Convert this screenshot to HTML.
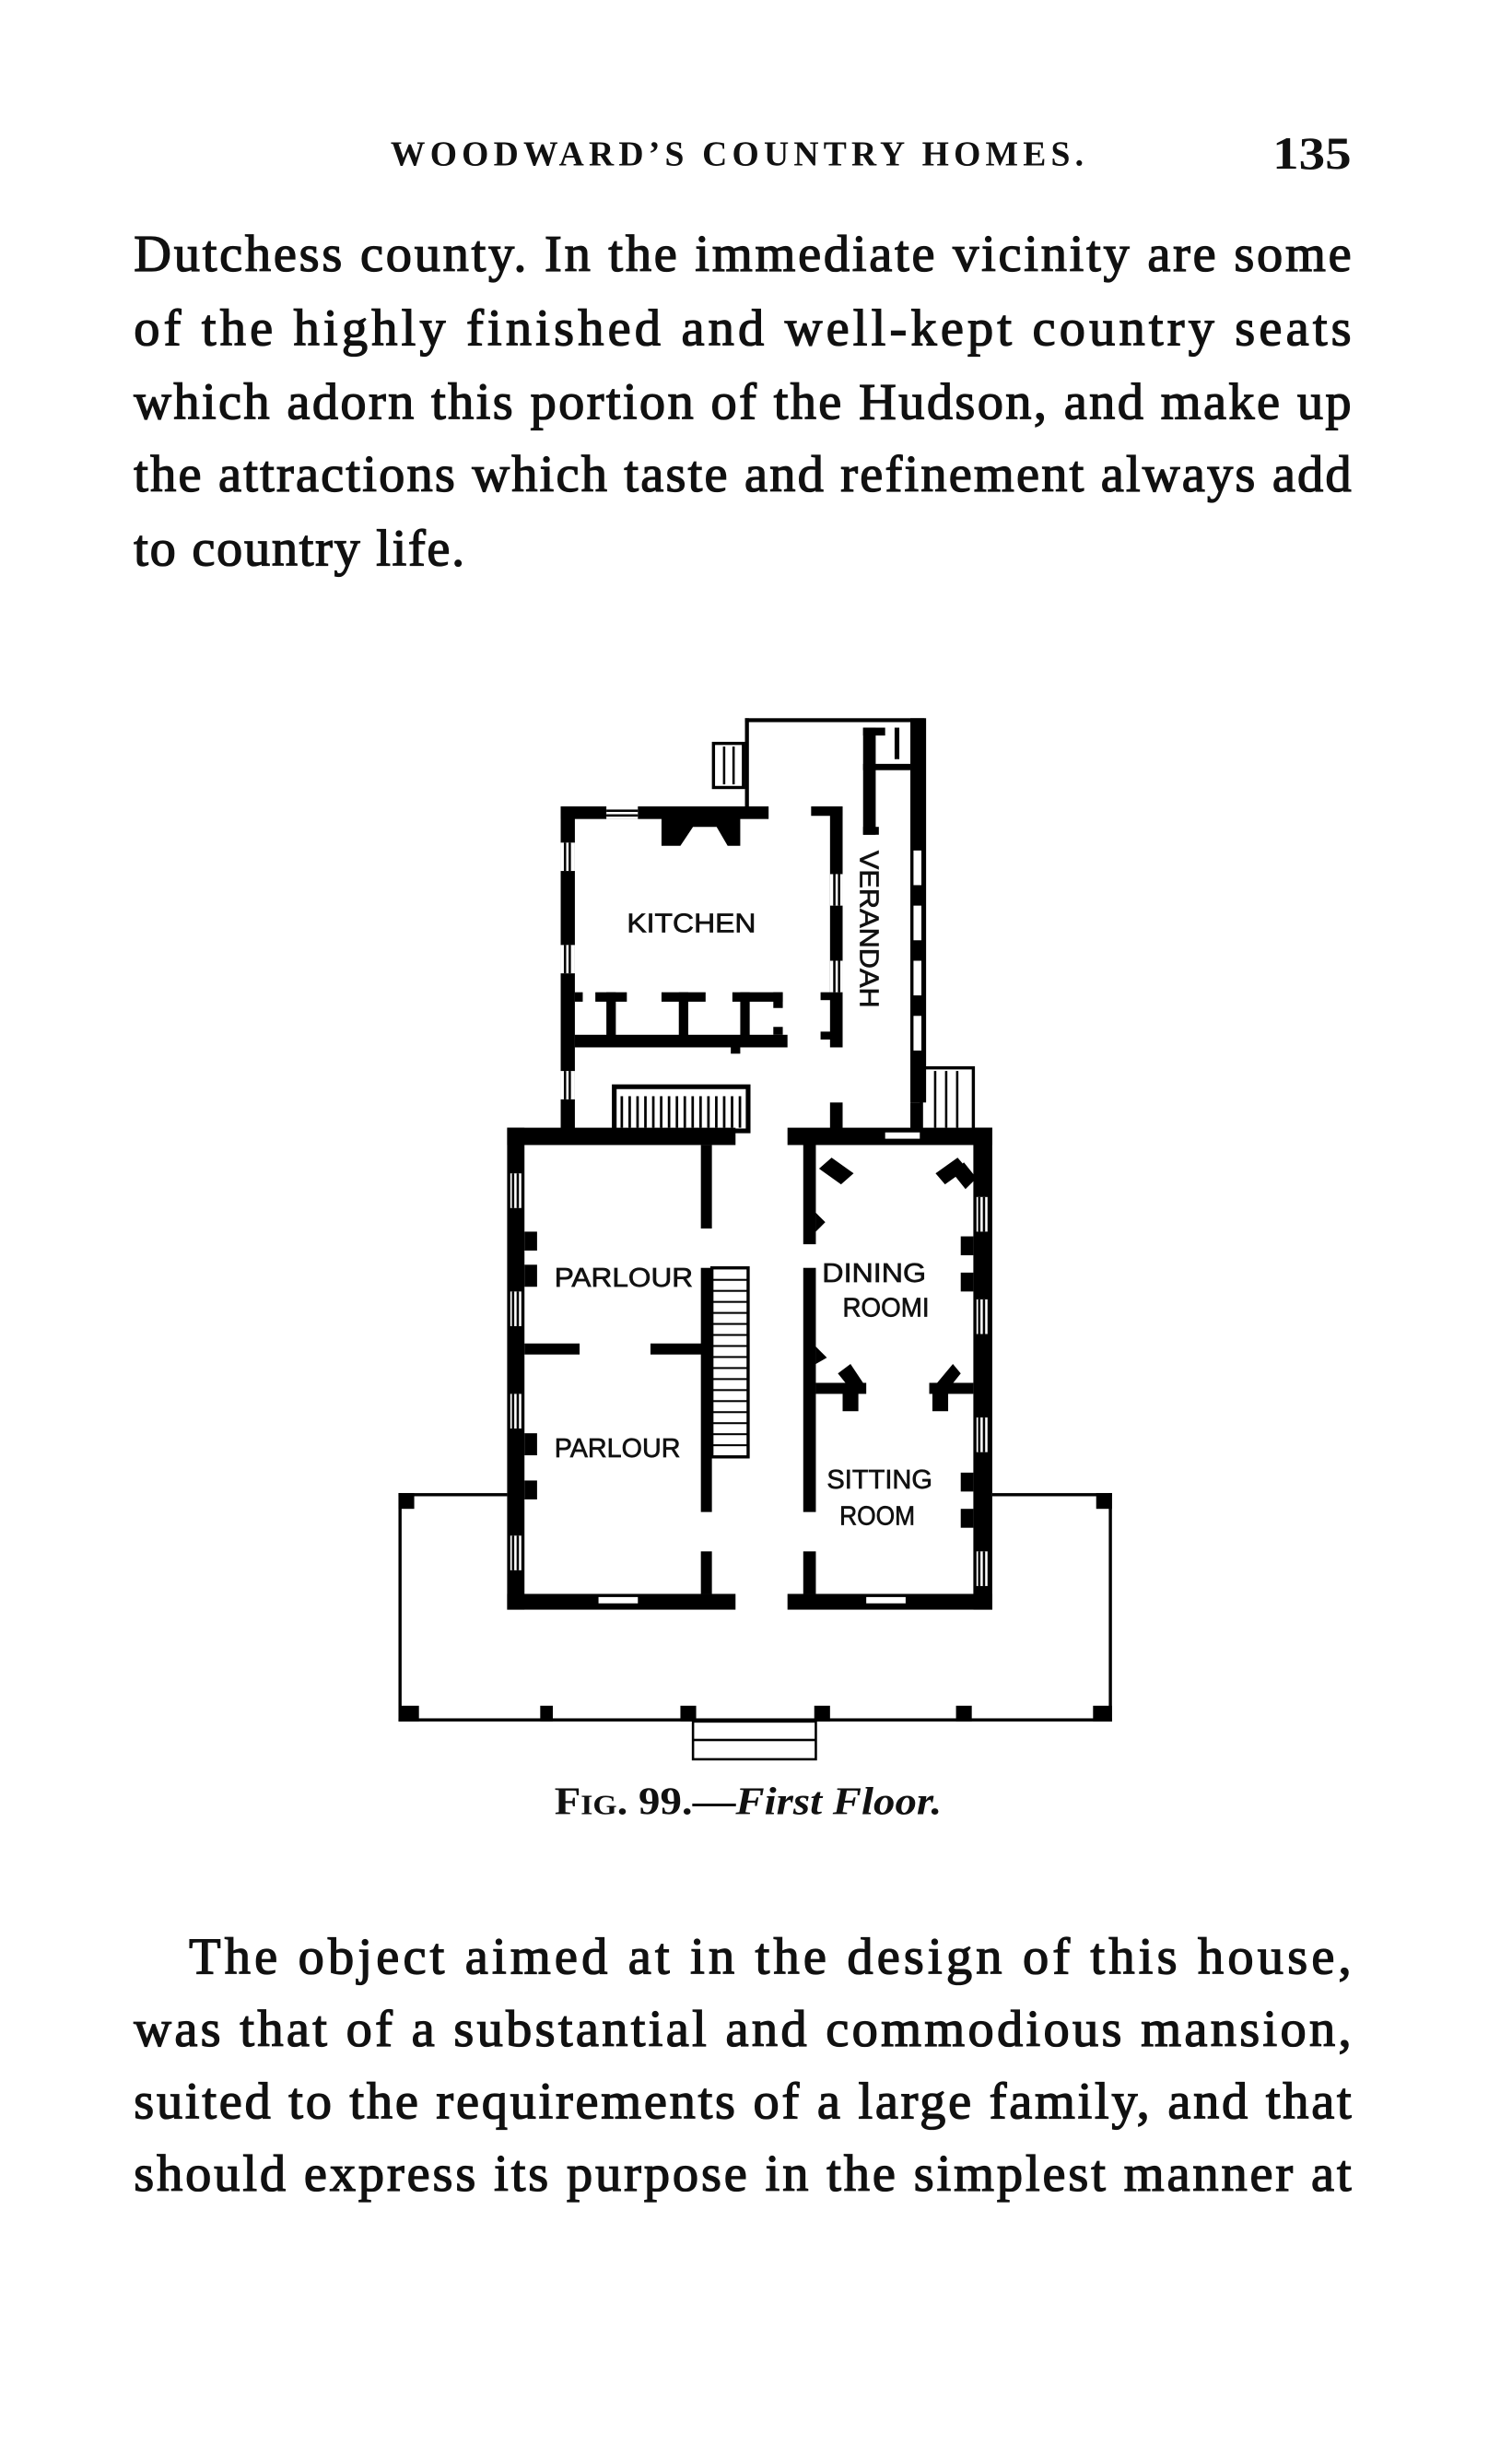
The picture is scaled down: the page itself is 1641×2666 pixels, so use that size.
<!DOCTYPE html>
<html><head><meta charset="utf-8"><style>
html,body{margin:0;padding:0;background:#fff;}
svg{display:block;}
.t{font-family:"Liberation Serif",serif;font-size:33px;fill:#111;stroke:#111;stroke-width:0.8px;}
.l{font-family:"Liberation Sans",sans-serif;font-size:17px;fill:#111;stroke:#111;stroke-width:0.4px;}
</style></head><body>
<svg width="1641" height="2666" viewBox="0 0 960 1560" preserveAspectRatio="none" xmlns="http://www.w3.org/2000/svg">
<rect width="960" height="1560" fill="#fff"/>
<text x="248" y="105" font-family="Liberation Serif,serif" font-size="22" font-weight="bold" textLength="440" lengthAdjust="spacing" fill="#111">WOODWARD’S COUNTRY HOMES.</text>
<text x="808" y="107" font-family="Liberation Serif,serif" font-size="29" font-weight="bold" textLength="50" lengthAdjust="spacingAndGlyphs" fill="#111">135</text>

<text class="t" x="85" y="172" textLength="773" lengthAdjust="spacing">Dutchess county.  In the immediate vicinity are some</text>
<text class="t" x="85" y="219" textLength="773" lengthAdjust="spacing">of the highly finished and well-kept country seats</text>
<text class="t" x="85" y="266" textLength="773" lengthAdjust="spacing">which adorn this portion of the Hudson, and make up</text>
<text class="t" x="85" y="312" textLength="773" lengthAdjust="spacing">the attractions which taste and refinement always add</text>
<text class="t" x="85" y="359" textLength="210" lengthAdjust="spacing">to country life.</text>

<g fill="#000">
<rect x="473" y="456" width="114" height="2.5"/>
<rect x="473" y="456" width="2.5" height="58"/>
<rect x="578" y="456" width="10" height="244"/>
<rect x="548" y="462" width="8" height="68"/>
<rect x="548" y="462" width="14" height="5"/>
<rect x="548" y="485" width="30" height="4"/>
<rect x="548" y="525" width="10" height="5"/>
<rect x="568" y="462" width="3" height="20"/>
<rect x="453" y="472" width="19" height="28" fill="none" stroke="#000" stroke-width="2"/>
<rect x="459" y="474" width="1.5" height="24"/><rect x="465" y="474" width="1.5" height="24"/>
<rect x="356" y="512" width="132" height="8"/>
<rect x="356" y="512" width="9" height="206"/>
<polygon points="420,518 470,518 470,537 462,537 455,525 440,525 432,537 420,537"/>
<rect x="515" y="512" width="20" height="6"/>
<rect x="527" y="512" width="8" height="153"/>
<rect x="521" y="630" width="8" height="5"/><rect x="521" y="655" width="8" height="5"/>
<rect x="365" y="657" width="135" height="8"/>
<rect x="365" y="630" width="5" height="6"/>
<rect x="378" y="630" width="20" height="6"/><rect x="385" y="630" width="6" height="30"/>
<rect x="420" y="630" width="28" height="6"/><rect x="431" y="630" width="6" height="30"/>
<rect x="465" y="630" width="32" height="6"/><rect x="470" y="630" width="6" height="30"/>
<rect x="491" y="630" width="6" height="10"/><rect x="491" y="652" width="6" height="5"/>
<rect x="464" y="663" width="6" height="6"/>
<rect x="356" y="535" width="9" height="18" fill="#fff"/><rect x="358" y="535" width="1.5" height="18"/><rect x="361" y="535" width="1.5" height="18"/>
<rect x="356" y="600" width="9" height="18" fill="#fff"/><rect x="358" y="600" width="1.5" height="18"/><rect x="361" y="600" width="1.5" height="18"/>
<rect x="356" y="680" width="9" height="18" fill="#fff"/><rect x="358" y="680" width="1.5" height="18"/><rect x="361" y="680" width="1.5" height="18"/>
<rect x="385" y="512" width="20" height="8" fill="#fff"/><rect x="385" y="514" width="20" height="1.5"/><rect x="385" y="517" width="20" height="1.5"/>
<rect x="527" y="555" width="8" height="20" fill="#fff"/><rect x="529" y="555" width="1.5" height="20"/><rect x="532" y="555" width="1.5" height="20"/>
<rect x="527" y="610" width="8" height="20" fill="#fff"/><rect x="529" y="610" width="1.5" height="20"/><rect x="532" y="610" width="1.5" height="20"/>
<rect x="580" y="540" width="5" height="22" fill="#fff"/><rect x="580" y="575" width="5" height="22" fill="#fff"/><rect x="580" y="610" width="5" height="22" fill="#fff"/><rect x="580" y="645" width="5" height="22" fill="#fff"/>
<rect x="390" y="690" width="85" height="28" fill="none" stroke="#000" stroke-width="3"/>
<g>
<rect x="394" y="696" width="1.6" height="20"/><rect x="399" y="696" width="1.6" height="20"/><rect x="404" y="696" width="1.6" height="20"/><rect x="409" y="696" width="1.6" height="20"/><rect x="414" y="696" width="1.6" height="20"/><rect x="419" y="696" width="1.6" height="20"/><rect x="424" y="696" width="1.6" height="20"/><rect x="429" y="696" width="1.6" height="20"/><rect x="434" y="696" width="1.6" height="20"/><rect x="439" y="696" width="1.6" height="20"/><rect x="444" y="696" width="1.6" height="20"/><rect x="449" y="696" width="1.6" height="20"/><rect x="454" y="696" width="1.6" height="20"/><rect x="459" y="696" width="1.6" height="20"/><rect x="464" y="696" width="1.6" height="20"/><rect x="469" y="696" width="1.6" height="20"/>
</g>
<rect x="585" y="678" width="33" height="40" fill="none" stroke="#000" stroke-width="2"/>
<rect x="593" y="680" width="1.5" height="36"/><rect x="600" y="680" width="1.5" height="36"/><rect x="607" y="680" width="1.5" height="36"/>
<rect x="578" y="700" width="8" height="18"/>
<rect x="527" y="700" width="8" height="18"/>
<rect x="322" y="716" width="145" height="11"/>
<rect x="500" y="716" width="130" height="11"/>
<rect x="562" y="719" width="22" height="4" fill="#fff"/>
<rect x="322" y="716" width="11" height="306"/>
<rect x="618" y="716" width="12" height="306"/>
<rect x="322" y="1012" width="145" height="10"/>
<rect x="500" y="1012" width="130" height="10"/>
<rect x="380" y="1014" width="25" height="4" fill="#fff"/>
<rect x="550" y="1014" width="25" height="4" fill="#fff"/>
<rect x="324" y="745" width="7" height="22" fill="#fff"/><rect x="325" y="745" width="1.5" height="22"/><rect x="328" y="745" width="1.5" height="22"/>
<rect x="324" y="820" width="7" height="22" fill="#fff"/><rect x="325" y="820" width="1.5" height="22"/><rect x="328" y="820" width="1.5" height="22"/>
<rect x="324" y="885" width="7" height="22" fill="#fff"/><rect x="325" y="885" width="1.5" height="22"/><rect x="328" y="885" width="1.5" height="22"/>
<rect x="324" y="975" width="7" height="22" fill="#fff"/><rect x="325" y="975" width="1.5" height="22"/><rect x="328" y="975" width="1.5" height="22"/>
<rect x="333" y="782" width="8" height="12"/><rect x="333" y="803" width="8" height="14"/>
<rect x="333" y="910" width="8" height="14"/><rect x="333" y="940" width="8" height="12"/>
<rect x="620" y="760" width="7" height="22" fill="#fff"/><rect x="621" y="760" width="1.5" height="22"/><rect x="624" y="760" width="1.5" height="22"/>
<rect x="620" y="825" width="7" height="22" fill="#fff"/><rect x="621" y="825" width="1.5" height="22"/><rect x="624" y="825" width="1.5" height="22"/>
<rect x="620" y="900" width="7" height="22" fill="#fff"/><rect x="621" y="900" width="1.5" height="22"/><rect x="624" y="900" width="1.5" height="22"/>
<rect x="620" y="985" width="7" height="22" fill="#fff"/><rect x="621" y="985" width="1.5" height="22"/><rect x="624" y="985" width="1.5" height="22"/>
<rect x="610" y="785" width="8" height="12"/><rect x="610" y="808" width="8" height="12"/>
<rect x="610" y="935" width="8" height="12"/><rect x="610" y="958" width="8" height="12"/>
<polygon points="520,742 528,735 542,745 534,752"/>
<polygon points="594,745 608,735 614,742 600,752"/>
<polygon points="605,745 612,738 620,748 613,755"/>
<rect x="445" y="727" width="7" height="53"/>
<rect x="445" y="805" width="7" height="155"/>
<rect x="445" y="985" width="7" height="27"/>
<rect x="333" y="853" width="35" height="7"/>
<rect x="413" y="853" width="34" height="7"/>
<rect x="452" y="805" width="23" height="120" fill="none" stroke="#000" stroke-width="2"/>
<g>
<rect x="452" y="812" width="23" height="1.2"/><rect x="452" y="819" width="23" height="1.2"/><rect x="452" y="826" width="23" height="1.2"/><rect x="452" y="833" width="23" height="1.2"/><rect x="452" y="840" width="23" height="1.2"/><rect x="452" y="847" width="23" height="1.2"/><rect x="452" y="854" width="23" height="1.2"/><rect x="452" y="861" width="23" height="1.2"/><rect x="452" y="868" width="23" height="1.2"/><rect x="452" y="875" width="23" height="1.2"/><rect x="452" y="882" width="23" height="1.2"/><rect x="452" y="889" width="23" height="1.2"/><rect x="452" y="896" width="23" height="1.2"/><rect x="452" y="903" width="23" height="1.2"/><rect x="452" y="910" width="23" height="1.2"/><rect x="452" y="917" width="23" height="1.2"/>
</g>
<rect x="510" y="718" width="8" height="72"/>
<rect x="503" y="718" width="12" height="5"/>
<rect x="510" y="805" width="8" height="155"/>
<rect x="510" y="985" width="8" height="27"/>
<polygon points="518,770 524,776 518,782"/>
<polygon points="518,855 525,862 518,866"/>
<rect x="518" y="878" width="32" height="7"/>
<rect x="535" y="878" width="10" height="18"/>
<polygon points="532,872 540,866 548,878 540,882"/>
<rect x="590" y="878" width="28" height="7"/>
<rect x="592" y="878" width="10" height="18"/>
<polygon points="595,878 605,866 610,872 602,882"/>
<rect x="253" y="948" width="69" height="2"/>
<rect x="630" y="948" width="76" height="2"/>
<rect x="253" y="948" width="2" height="145"/>
<rect x="704" y="948" width="2" height="145"/>
<rect x="253" y="1091" width="453" height="2"/>
<rect x="253" y="948" width="10" height="10"/><rect x="696" y="948" width="10" height="10"/>
<rect x="254" y="1083" width="12" height="10"/><rect x="343" y="1083" width="8" height="10"/><rect x="432" y="1083" width="10" height="10"/><rect x="517" y="1083" width="10" height="10"/><rect x="607" y="1083" width="10" height="10"/><rect x="694" y="1083" width="12" height="10"/>
<rect x="440" y="1093" width="78" height="24" fill="none" stroke="#000" stroke-width="1.5"/>
<rect x="440" y="1104" width="78" height="1.5"/>
</g>
<text class="l" x="398" y="592" textLength="82" lengthAdjust="spacingAndGlyphs">KITCHEN</text>
<text class="l" transform="translate(546,540) rotate(90)" x="0" y="0" textLength="100" lengthAdjust="spacingAndGlyphs">VERANDAH</text>
<text class="l" x="352" y="817" textLength="88" lengthAdjust="spacingAndGlyphs">PARLOUR</text>
<text class="l" x="352" y="925" textLength="80" lengthAdjust="spacingAndGlyphs">PARLOUR</text>
<text class="l" x="522" y="814" font-size="15" textLength="66" lengthAdjust="spacingAndGlyphs">DINING</text>
<text class="l" x="535" y="836" font-size="15" textLength="55" lengthAdjust="spacingAndGlyphs">ROOMI</text>
<text class="l" x="525" y="945" font-size="15" textLength="67" lengthAdjust="spacingAndGlyphs">SITTING</text>
<text class="l" x="533" y="968" font-size="15" textLength="48" lengthAdjust="spacingAndGlyphs">ROOM</text>
<text x="352" y="1152" font-family="Liberation Serif,serif" font-size="25" font-weight="bold" fill="#111" textLength="246" lengthAdjust="spacingAndGlyphs">F<tspan font-size="18">IG</tspan>. 99.—<tspan font-style="italic">First Floor.</tspan></text>

<text class="t" x="120" y="1253" textLength="738" lengthAdjust="spacing">The object aimed at in the design of this house,</text>
<text class="t" x="85" y="1299" textLength="773" lengthAdjust="spacing">was that of a substantial and commodious mansion,</text>
<text class="t" x="85" y="1345" textLength="773" lengthAdjust="spacing">suited to the requirements of a large family, and that</text>
<text class="t" x="85" y="1391" textLength="773" lengthAdjust="spacing">should express its purpose in the simplest manner at</text>
</svg>
</body></html>
